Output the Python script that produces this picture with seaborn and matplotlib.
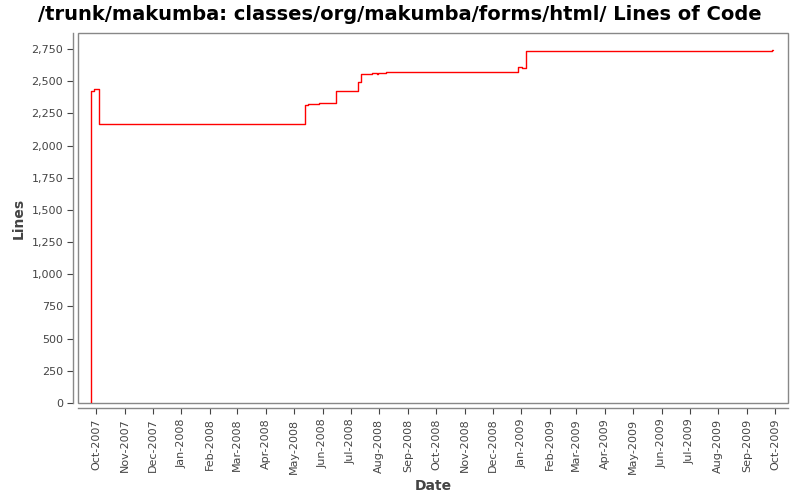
import seaborn as sns
import matplotlib.pyplot as plt
import matplotlib.dates as mdates
from matplotlib.patches import Rectangle
import pandas as pd

# commit dates and line counts
dates = [
    "2007-09-26", "2007-09-29", "2007-10-04", "2008-05-13", "2008-05-16",
    "2008-05-28", "2008-06-15", "2008-07-09", "2008-07-12", "2008-07-24",
    "2008-07-29", "2008-07-31", "2008-08-08", "2008-12-28", "2009-01-02",
    "2009-01-06", "2009-09-28", "2009-09-29",
]
lines = [
    2421, 2437, 2165, 2312, 2323,
    2330, 2421, 2491, 2553, 2561,
    2553, 2561, 2569, 2608, 2600,
    2732, 2740, 2740,
]

title = "/trunk/makumba: classes/org/makumba/forms/html/ Lines of Code"

df = pd.DataFrame({"Date": pd.to_datetime(dates), "Lines": lines})
# start from zero at the first commit
df = pd.concat([pd.DataFrame({"Date": [df["Date"].iloc[0]], "Lines": [0]}), df],
               ignore_index=True)

sns.set_style("white")
plt.rcParams['font.family'] = ['DejaVu Sans']

fig = plt.figure(figsize=(8, 5), dpi=100)
ax = fig.add_axes([0.098, 0.194, 0.887, 0.74])

sns.lineplot(data=df, x="Date", y="Lines", ax=ax, color="#ff0000",
             linewidth=1.0, drawstyle="steps-post", sort=False,
             estimator=None)

ax.set_xlim(pd.Timestamp("2007-09-12"), pd.Timestamp("2009-10-15"))
ax.set_ylim(0, 2875)
ax.set_yticks(range(0, 2751, 250))
ax.yaxis.set_major_formatter(plt.FuncFormatter(lambda v, p: f"{int(v):,}"))
ax.xaxis.set_major_locator(mdates.MonthLocator())
ax.xaxis.set_major_formatter(mdates.DateFormatter("%b-%Y"))

ax.tick_params(axis="x", rotation=90, labelsize=8, colors="#444444",
               length=4, width=0.8, direction="out", bottom=True)
ax.tick_params(axis="y", labelsize=8, colors="#444444",
               length=4, width=0.8, direction="out", left=True)

# offset axes like the original, plus a grey box round the plot area
for side in ["top", "right"]:
    ax.spines[side].set_visible(False)
for side in ["left", "bottom"]:
    ax.spines[side].set_position(("outward", 3.6))
    ax.spines[side].set_color("#888888")
    ax.spines[side].set_linewidth(1.0)
ax.add_patch(Rectangle((0, 0), 1, 1, transform=ax.transAxes, fill=False,
                       edgecolor="#888888", linewidth=1.0, clip_on=False))

ax.set_xlabel("Date", fontsize=10, fontweight="bold", color="#444444")
ax.set_ylabel("Lines", fontsize=10, fontweight="bold", color="#444444")
fig.suptitle(title, fontsize=14, fontweight="bold", color="black",
             x=0.5, y=0.99)

fig.savefig("out.png", dpi=100)
